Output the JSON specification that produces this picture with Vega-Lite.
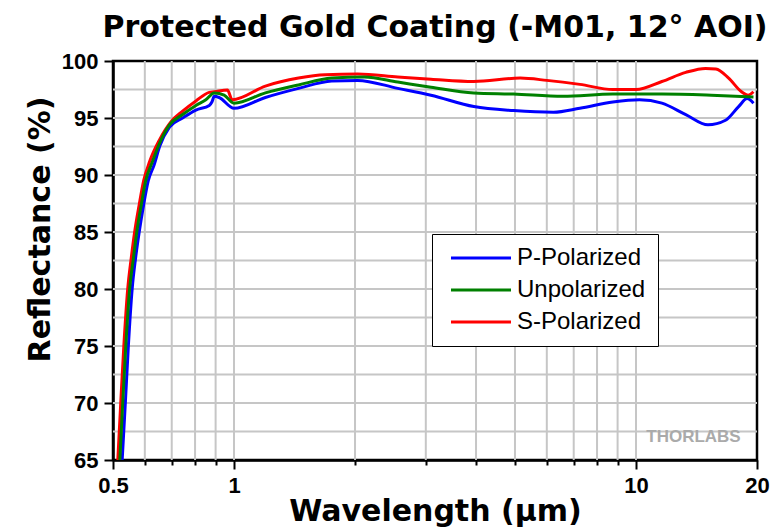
{
  "$schema": "https://vega.github.io/schema/vega-lite/v6.json",
  "width": 644,
  "height": 399,
  "autosize": {"type": "none"},
  "padding": {"left": 113, "top": 61, "right": 19, "bottom": 70},
  "background": "white",
  "title": {
    "text": "Protected Gold Coating (-M01, 12° AOI)",
    "font": "DejaVu Sans",
    "fontSize": 30,
    "fontWeight": "bold",
    "color": "black",
    "anchor": "middle",
    "baseline": "alphabetic",
    "offset": -17
  },
  "config": {
    "view": {"stroke": "black", "strokeWidth": 2.5},
    "axis": {
      "domainColor": "black",
      "domainWidth": 2.5,
      "tickColor": "black",
      "tickWidth": 2,
      "labelColor": "black",
      "labelFont": "Liberation Sans",
      "labelFontWeight": "bold",
      "labelFontSize": 22,
      "titleColor": "black",
      "titleFont": "DejaVu Sans",
      "titleFontWeight": "bold",
      "titleFontSize": 30,
      "grid": false
    }
  },
  "datasets": {
    "xgrid": [{"g": 0.6}, {"g": 0.7}, {"g": 0.8}, {"g": 0.9}, {"g": 1}, {"g": 2}, {"g": 3}, {"g": 4}, {"g": 5}, {"g": 6}, {"g": 7}, {"g": 8}, {"g": 9}, {"g": 10}],
    "ygrid": [{"g": 67.5}, {"g": 70}, {"g": 72.5}, {"g": 75}, {"g": 77.5}, {"g": 80}, {"g": 82.5}, {"g": 85}, {"g": 87.5}, {"g": 90}, {"g": 92.5}, {"g": 95}, {"g": 97.5}],
    "brand": [{"name": "THORLABS", "wl": 13.9, "r": 67.0}],
    "curves": [
      {"pol": "P-Polarized", "wl": 0.527, "r": 65.0},
      {"pol": "P-Polarized", "wl": 0.537, "r": 70.2},
      {"pol": "P-Polarized", "wl": 0.546, "r": 75.0},
      {"pol": "P-Polarized", "wl": 0.558, "r": 80.0},
      {"pol": "P-Polarized", "wl": 0.569, "r": 82.7},
      {"pol": "P-Polarized", "wl": 0.581, "r": 85.0},
      {"pol": "P-Polarized", "wl": 0.596, "r": 87.4},
      {"pol": "P-Polarized", "wl": 0.612, "r": 89.5},
      {"pol": "P-Polarized", "wl": 0.633, "r": 90.9},
      {"pol": "P-Polarized", "wl": 0.653, "r": 92.5},
      {"pol": "P-Polarized", "wl": 0.691, "r": 94.2},
      {"pol": "P-Polarized", "wl": 0.745, "r": 95.0},
      {"pol": "P-Polarized", "wl": 0.804, "r": 95.7},
      {"pol": "P-Polarized", "wl": 0.868, "r": 96.1},
      {"pol": "P-Polarized", "wl": 0.881, "r": 96.4},
      {"pol": "P-Polarized", "wl": 0.893, "r": 96.9},
      {"pol": "P-Polarized", "wl": 0.918, "r": 96.8},
      {"pol": "P-Polarized", "wl": 1.0, "r": 95.85},
      {"pol": "P-Polarized", "wl": 1.197, "r": 96.8},
      {"pol": "P-Polarized", "wl": 1.447, "r": 97.6},
      {"pol": "P-Polarized", "wl": 1.75, "r": 98.25},
      {"pol": "P-Polarized", "wl": 2.03, "r": 98.3},
      {"pol": "P-Polarized", "wl": 2.555, "r": 97.6},
      {"pol": "P-Polarized", "wl": 3.09, "r": 97.0},
      {"pol": "P-Polarized", "wl": 3.95, "r": 96.0},
      {"pol": "P-Polarized", "wl": 4.96, "r": 95.65},
      {"pol": "P-Polarized", "wl": 6.23, "r": 95.5},
      {"pol": "P-Polarized", "wl": 7.25, "r": 95.85},
      {"pol": "P-Polarized", "wl": 8.76, "r": 96.4},
      {"pol": "P-Polarized", "wl": 10.2, "r": 96.6},
      {"pol": "P-Polarized", "wl": 11.6, "r": 96.3},
      {"pol": "P-Polarized", "wl": 13.3, "r": 95.3},
      {"pol": "P-Polarized", "wl": 15.1, "r": 94.4},
      {"pol": "P-Polarized", "wl": 16.7, "r": 94.8},
      {"pol": "P-Polarized", "wl": 18.0, "r": 96.0},
      {"pol": "P-Polarized", "wl": 18.9, "r": 96.7},
      {"pol": "P-Polarized", "wl": 19.6, "r": 96.3},
      {"pol": "S-Polarized", "wl": 0.514, "r": 65.0},
      {"pol": "S-Polarized", "wl": 0.523, "r": 70.2},
      {"pol": "S-Polarized", "wl": 0.532, "r": 75.0},
      {"pol": "S-Polarized", "wl": 0.544, "r": 80.0},
      {"pol": "S-Polarized", "wl": 0.555, "r": 82.7},
      {"pol": "S-Polarized", "wl": 0.566, "r": 85.0},
      {"pol": "S-Polarized", "wl": 0.581, "r": 87.4},
      {"pol": "S-Polarized", "wl": 0.596, "r": 89.5},
      {"pol": "S-Polarized", "wl": 0.617, "r": 91.2},
      {"pol": "S-Polarized", "wl": 0.653, "r": 93.1},
      {"pol": "S-Polarized", "wl": 0.698, "r": 94.7},
      {"pol": "S-Polarized", "wl": 0.745, "r": 95.6},
      {"pol": "S-Polarized", "wl": 0.804, "r": 96.5},
      {"pol": "S-Polarized", "wl": 0.868, "r": 97.25},
      {"pol": "S-Polarized", "wl": 0.893, "r": 97.3},
      {"pol": "S-Polarized", "wl": 0.963, "r": 97.45},
      {"pol": "S-Polarized", "wl": 0.99, "r": 96.6},
      {"pol": "S-Polarized", "wl": 1.197, "r": 97.8},
      {"pol": "S-Polarized", "wl": 1.447, "r": 98.5},
      {"pol": "S-Polarized", "wl": 1.685, "r": 98.8},
      {"pol": "S-Polarized", "wl": 2.03, "r": 98.86},
      {"pol": "S-Polarized", "wl": 2.555, "r": 98.6},
      {"pol": "S-Polarized", "wl": 3.09, "r": 98.4},
      {"pol": "S-Polarized", "wl": 3.95, "r": 98.2},
      {"pol": "S-Polarized", "wl": 5.15, "r": 98.5},
      {"pol": "S-Polarized", "wl": 6.0, "r": 98.3},
      {"pol": "S-Polarized", "wl": 7.25, "r": 97.95},
      {"pol": "S-Polarized", "wl": 8.76, "r": 97.5},
      {"pol": "S-Polarized", "wl": 10.0, "r": 97.5},
      {"pol": "S-Polarized", "wl": 11.6, "r": 98.2},
      {"pol": "S-Polarized", "wl": 13.3, "r": 99.0},
      {"pol": "S-Polarized", "wl": 14.9, "r": 99.35},
      {"pol": "S-Polarized", "wl": 15.8, "r": 99.3},
      {"pol": "S-Polarized", "wl": 17.0, "r": 98.5},
      {"pol": "S-Polarized", "wl": 18.3, "r": 97.3},
      {"pol": "S-Polarized", "wl": 19.0, "r": 97.0},
      {"pol": "S-Polarized", "wl": 19.6, "r": 97.3},
      {"pol": "Unpolarized", "wl": 0.520, "r": 65.0},
      {"pol": "Unpolarized", "wl": 0.529, "r": 70.2},
      {"pol": "Unpolarized", "wl": 0.538, "r": 75.0},
      {"pol": "Unpolarized", "wl": 0.550, "r": 80.0},
      {"pol": "Unpolarized", "wl": 0.562, "r": 82.7},
      {"pol": "Unpolarized", "wl": 0.573, "r": 85.0},
      {"pol": "Unpolarized", "wl": 0.588, "r": 87.4},
      {"pol": "Unpolarized", "wl": 0.603, "r": 89.5},
      {"pol": "Unpolarized", "wl": 0.624, "r": 91.0},
      {"pol": "Unpolarized", "wl": 0.653, "r": 92.8},
      {"pol": "Unpolarized", "wl": 0.691, "r": 94.4},
      {"pol": "Unpolarized", "wl": 0.745, "r": 95.3},
      {"pol": "Unpolarized", "wl": 0.804, "r": 96.1},
      {"pol": "Unpolarized", "wl": 0.851, "r": 96.6},
      {"pol": "Unpolarized", "wl": 0.893, "r": 97.2},
      {"pol": "Unpolarized", "wl": 0.945, "r": 97.0},
      {"pol": "Unpolarized", "wl": 1.0, "r": 96.3},
      {"pol": "Unpolarized", "wl": 1.197, "r": 97.2},
      {"pol": "Unpolarized", "wl": 1.447, "r": 97.9},
      {"pol": "Unpolarized", "wl": 1.75, "r": 98.5},
      {"pol": "Unpolarized", "wl": 2.11, "r": 98.6},
      {"pol": "Unpolarized", "wl": 2.555, "r": 98.15},
      {"pol": "Unpolarized", "wl": 3.09, "r": 97.7},
      {"pol": "Unpolarized", "wl": 3.95, "r": 97.2},
      {"pol": "Unpolarized", "wl": 4.96, "r": 97.1},
      {"pol": "Unpolarized", "wl": 6.58, "r": 96.9},
      {"pol": "Unpolarized", "wl": 8.76, "r": 97.1},
      {"pol": "Unpolarized", "wl": 11.6, "r": 97.1},
      {"pol": "Unpolarized", "wl": 15.4, "r": 97.0},
      {"pol": "Unpolarized", "wl": 19.6, "r": 96.85}
    ]
  },
  "layer": [
    {
      "mark": {"type": "rect", "color": "#dde6f6"},
      "encoding": {
        "x": {"datum": 0.8, "type": "quantitative"},
        "x2": {"datum": 20},
        "y": {"datum": 65, "type": "quantitative"},
        "y2": {"datum": 100}
      }
    },
    {
      "data": {"name": "xgrid"},
      "mark": {"type": "rule", "color": "#c6c6c6", "strokeWidth": 2},
      "encoding": {"x": {"field": "g", "type": "quantitative"}}
    },
    {
      "data": {"name": "ygrid"},
      "mark": {"type": "rule", "color": "#c6c6c6", "strokeWidth": 2},
      "encoding": {"y": {"field": "g", "type": "quantitative"}}
    },
    {
      "data": {"name": "brand"},
      "mark": {"type": "text", "font": "Liberation Sans", "fontWeight": "bold", "fontSize": 17, "color": "#aaaaaa"},
      "encoding": {
        "x": {"field": "wl", "type": "quantitative"},
        "y": {"field": "r", "type": "quantitative"},
        "text": {"field": "name", "type": "nominal"}
      }
    },
    {
      "data": {"name": "curves"},
      "mark": {"type": "line", "strokeWidth": 3, "interpolate": "monotone", "clip": true},
      "encoding": {
        "x": {
          "field": "wl",
          "type": "quantitative",
          "scale": {"type": "log", "domain": [0.5, 20], "nice": false},
          "axis": {
            "title": "Wavelength (μm)",
            "values": [0.5, 0.6, 0.7, 0.8, 0.9, 1, 2, 3, 4, 5, 6, 7, 8, 9, 10, 20],
            "labelExpr": "indexof([0.5, 1, 10, 20], datum.value) >= 0 ? format(datum.value, '~g') : ''",
            "tickSize": {"condition": {"test": "indexof([0.5, 1, 10, 20], datum.value) >= 0", "value": 9}, "value": 5},
            "labelPadding": 6,
            "labelFlush": false,
            "labelOverlap": false,
            "titlePadding": 0
          }
        },
        "y": {
          "field": "r",
          "type": "quantitative",
          "scale": {"domain": [65, 100], "nice": false, "zero": false},
          "axis": {
            "title": "Reflectance (%)",
            "values": [65, 67.5, 70, 72.5, 75, 77.5, 80, 82.5, 85, 87.5, 90, 92.5, 95, 97.5, 100],
            "labelExpr": "datum.value % 5 === 0 ? datum.label : ''",
            "tickSize": {"condition": {"test": "datum.value % 5 === 0", "value": 9}, "value": 5},
            "labelPadding": 6,
            "labelFlush": false,
            "labelOverlap": false,
            "titlePadding": 6,
            "titleY": 168
          }
        },
        "color": {
          "field": "pol",
          "type": "nominal",
          "scale": {"domain": ["P-Polarized", "Unpolarized", "S-Polarized"], "range": ["#0000ff", "#008000", "#ff0000"]},
          "legend": {
            "title": null,
            "orient": "none",
            "legendX": 319,
            "legendY": 173,
            "symbolType": "M-1,0H11",
            "symbolSize": 100,
            "symbolStrokeWidth": 3,
            "labelFont": "Liberation Sans",
            "labelFontSize": 24,
            "labelColor": "black",
            "fillColor": "white",
            "strokeColor": "black",
            "padding": 12,
            "rowPadding": 8,
            "labelOffset": 49
          }
        }
      }
    }
  ]
}
